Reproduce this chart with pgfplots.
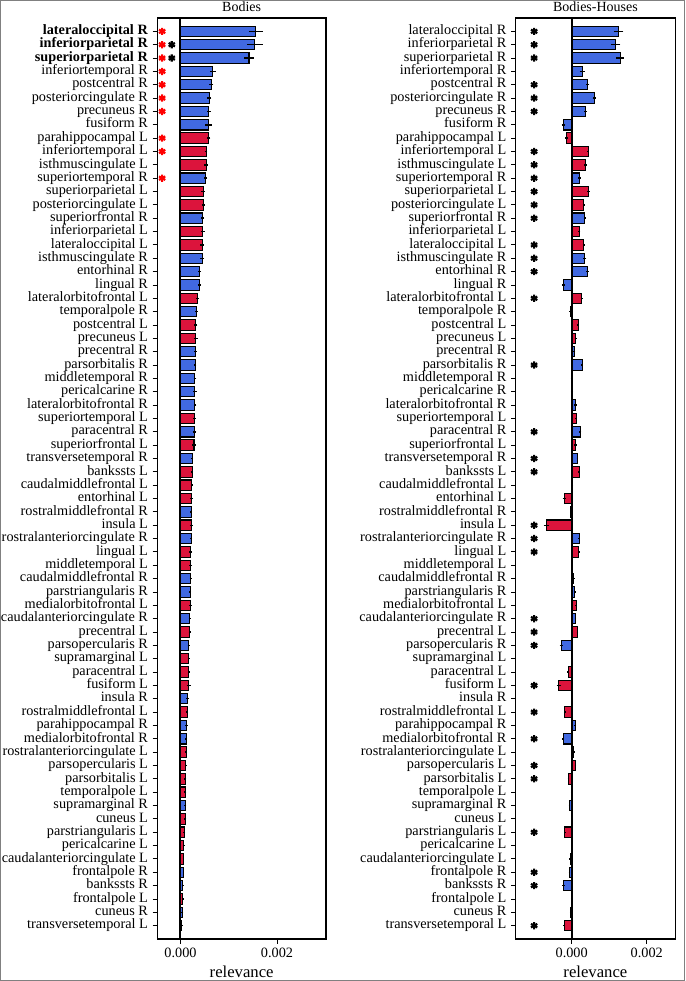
\documentclass[border=0pt]{standalone}
\usepackage{fontspec}
\setmainfont{Liberation Serif}
\usepackage{pgfplots}
\pgfplotsset{compat=1.18}
\definecolor{rblue}{RGB}{65,105,225}
\definecolor{lred}{RGB}{220,20,60}
\pgfplotsset{
  panel/.style={
    scale only axis, height=690.75pt,
    ymin=-1, ymax=68, y dir=reverse,
    ytick={0,...,67},
    xtick={0,0.002},
    scaled x ticks=false,
    xticklabel style={/pgf/number format/.cd, fixed, fixed zerofill, precision=3},
    /pgf/number format/assume math mode=true,
    tick align=outside, tick pos=left,
    major tick length=3.5pt,
    tick style={black, line width=0.7pt},
    axis line style={black, line width=0.8pt},
    ticklabel style={font=\fontsize{10.7}{12}\selectfont},
    yticklabel style={inner ysep=0pt, text height=0.68em, text depth=0.2em},
    every axis title/.style={at={(0.5,1)}, anchor=base, yshift=4.7pt, font=\fontsize{10.5}{12}\selectfont},
    xlabel style={font=\fontsize{12.5}{14}\selectfont, at={(axis description cs:0.5,0)}, anchor=base, yshift=-28.5pt},
    xlabel=relevance,
    clip=false,
  },
  hbar/.style={xbar, bar width=0.78, bar shift=0pt, fill=#1, draw=black, line width=0.8pt,
    error bars/.cd, x dir=both, x explicit, error mark=none, error bar style={black, solid, line width=1.1pt}},
  star/.style={only marks, mark=asterisk, mark size=2.7pt, line width=1.6pt, color=#1},
}
\begin{document}
\begin{tikzpicture}
\path[use as bounding box] (0,0) rectangle (513.75pt,-735.75pt);
% ---------------- Left panel: Bodies
\begin{axis}[panel, at={(117.98pt,-13.5pt)}, anchor=north west, width=126.5pt,
  xmin=-0.00048, xmax=0.003015, title={Bodies},
  yticklabels={\textbf{lateraloccipital R},\textbf{inferiorparietal R},\textbf{superiorparietal R},inferiortemporal R,postcentral R,posteriorcingulate R,precuneus R,fusiform R,parahippocampal L,inferiortemporal L,isthmuscingulate L,superiortemporal R,superiorparietal L,posteriorcingulate L,superiorfrontal R,inferiorparietal L,lateraloccipital L,isthmuscingulate R,entorhinal R,lingual R,lateralorbitofrontal L,temporalpole R,postcentral L,precuneus L,precentral R,parsorbitalis R,middletemporal R,pericalcarine R,lateralorbitofrontal R,superiortemporal L,paracentral R,superiorfrontal L,transversetemporal R,bankssts L,caudalmiddlefrontal L,entorhinal L,rostralmiddlefrontal R,insula L,rostralanteriorcingulate R,lingual L,middletemporal L,caudalmiddlefrontal R,parstriangularis R,medialorbitofrontal L,caudalanteriorcingulate R,precentral L,parsopercularis R,supramarginal L,paracentral L,fusiform L,insula R,rostralmiddlefrontal L,parahippocampal R,medialorbitofrontal R,rostralanteriorcingulate L,parsopercularis L,parsorbitalis L,temporalpole L,supramarginal R,cuneus L,parstriangularis L,pericalcarine L,caudalanteriorcingulate L,frontalpole R,bankssts R,frontalpole L,cuneus R,transversetemporal L},
]
\addplot[hbar=rblue] coordinates {
(0.00156,0) +- (0.00015,0) (0.00154,1) +- (0.00016,0) (0.00142,2) +- (0.00010,0)
(0.00067,3) +- (0.00006,0) (0.00064,4) +- (0.00004,0) (0.00060,5) +- (0.00004,0)
(0.00059,6) +- (0.00004,0) (0.00058,7) +- (0.00007,0) (0.00052,11) +- (0.00003,0)
(0.00046,14) +- (0.00003,0) (0.00045,17) +- (0.00004,0) (0.00040,18) +- (0.00003,0)
(0.00039,19) +- (0.00003,0) (0.00033,21) +- (0.00003,0) (0.00031,24) +- (0.00003,0)
(0.00031,25) +- (0.00002,0) (0.00030,26) +- (0.00003,0) (0.00030,27) +- (0.00004,0)
(0.00030,28) +- (0.00003,0) (0.00029,30) +- (0.00004,0) (0.00024,32) +- (0.00002,0)
(0.00022,36) +- (0.00002,0) (0.00022,38) +- (0.00002,0) (0.00021,41) +- (0.00002,0)
(0.00020,42) +- (0.00002,0) (0.00019,44) +- (0.00002,0) (0.00017,46) +- (0.00002,0)
(0.00015,50) +- (0.00003,0) (0.00012,52) +- (0.00003,0) (0.00012,53) +- (0.00002,0)
(0.00010,58) +- (0.00002,0) (0.00006,63) +- (0.00001,0) (0.00005,64) +- (0.00002,0)
(0.00004,66) +- (0.00002,0)
};
\addplot[hbar=lred] coordinates {
(0.00058,8) +- (0.00004,0) (0.00053,9) +- (0.00003,0) (0.00053,10) +- (0.00004,0)
(0.00047,12) +- (0.00004,0) (0.00047,13) +- (0.00003,0) (0.00046,15) +- (0.00004,0)
(0.00045,16) +- (0.00004,0) (0.00035,20) +- (0.00003,0) (0.00032,22) +- (0.00003,0)
(0.00032,23) +- (0.00004,0) (0.00029,29) +- (0.00003,0) (0.00028,31) +- (0.00004,0)
(0.00024,33) +- (0.00002,0) (0.00023,34) +- (0.00002,0) (0.00023,35) +- (0.00003,0)
(0.00022,37) +- (0.00003,0) (0.00021,39) +- (0.00003,0) (0.00021,40) +- (0.00003,0)
(0.00020,43) +- (0.00003,0) (0.00019,45) +- (0.00002,0) (0.00017,47) +- (0.00002,0)
(0.00017,48) +- (0.00002,0) (0.00017,49) +- (0.00004,0) (0.00014,51) +- (0.00002,0)
(0.00012,54) +- (0.00002,0) (0.00011,55) +- (0.00002,0) (0.00010,56) +- (0.00002,0)
(0.00010,57) +- (0.00002,0) (0.00010,59) +- (0.00002,0) (0.00008,60) +- (0.00002,0)
(0.00007,61) +- (0.00002,0) (0.00006,62) +- (0.00001,0) (0.00005,65) +- (0.00001,0)
(0.00003,67) +- (0.00001,0)
};
\addplot[black, line width=1.5pt] coordinates {(0,-1) (0,68)};
\addplot[star=red] coordinates {(-0.00038,0) (-0.00038,1) (-0.00038,2) (-0.00038,3) (-0.00038,4) (-0.00038,5) (-0.00038,6) (-0.00038,8) (-0.00038,9) (-0.00038,11)};
\addplot[star=black] coordinates {(-0.00018,1) (-0.00018,2)};
\end{axis}
% ---------------- Right panel: Bodies-Houses
\begin{axis}[panel, at={(386.8pt,-13.5pt)}, anchor=north west, width=119.5pt,
  xmin=-0.00149, xmax=0.002755, title={Bodies-Houses},
  yticklabels={lateraloccipital R,inferiorparietal R,superiorparietal R,inferiortemporal R,postcentral R,posteriorcingulate R,precuneus R,fusiform R,parahippocampal L,inferiortemporal L,isthmuscingulate L,superiortemporal R,superiorparietal L,posteriorcingulate L,superiorfrontal R,inferiorparietal L,lateraloccipital L,isthmuscingulate R,entorhinal R,lingual R,lateralorbitofrontal L,temporalpole R,postcentral L,precuneus L,precentral R,parsorbitalis R,middletemporal R,pericalcarine R,lateralorbitofrontal R,superiortemporal L,paracentral R,superiorfrontal L,transversetemporal R,bankssts L,caudalmiddlefrontal L,entorhinal L,rostralmiddlefrontal R,insula L,rostralanteriorcingulate R,lingual L,middletemporal L,caudalmiddlefrontal R,parstriangularis R,medialorbitofrontal L,caudalanteriorcingulate R,precentral L,parsopercularis R,supramarginal L,paracentral L,fusiform L,insula R,rostralmiddlefrontal L,parahippocampal R,medialorbitofrontal R,rostralanteriorcingulate L,parsopercularis L,parsorbitalis L,temporalpole L,supramarginal R,cuneus L,parstriangularis L,pericalcarine L,caudalanteriorcingulate L,frontalpole R,bankssts R,frontalpole L,cuneus R,transversetemporal L},
]
\addplot[hbar=rblue] coordinates {
(0.00125,0) +- (0.00013,0) (0.00118,1) +- (0.00012,0) (0.00129,2) +- (0.00010,0)
(0.00028,3) +- (0.00007,0) (0.00043,4) +- (0.00004,0) (0.00060,5) +- (0.00004,0)
(0.00037,6) +- (0.00004,0) (-0.00022,7) +- (0.00005,0) (0.00021,11) +- (0.00003,0)
(0.00035,14) +- (0.00003,0) (0.00035,17) +- (0.00004,0) (0.00042,18) +- (0.00003,0)
(-0.00022,19) +- (0.00004,0) (-0.00004,21) +- (0.00003,0) (0.00007,24) +- (0.00003,0)
(0.00028,25) +- (0.00002,0) (-0.00001,26) +- (0.00002,0) (0.00001,27) +- (0.00003,0)
(0.00010,28) +- (0.00003,0) (0.00023,30) +- (0.00003,0) (0.00015,32) +- (0.00002,0)
(-0.00002,36) +- (0.00002,0) (0.00020,38) +- (0.00002,0) (0.00005,41) +- (0.00002,0)
(0.00008,42) +- (0.00002,0) (0.00010,44) +- (0.00002,0) (-0.00028,46) +- (0.00004,0)
(0.00001,50) +- (0.00002,0) (0.00009,52) +- (0.00003,0) (-0.00023,53) +- (0.00002,0)
(-0.00006,58) +- (0.00002,0) (-0.00006,63) +- (0.00002,0) (-0.00022,64) +- (0.00003,0)
(-0.00003,66) +- (0.00002,0)
};
\addplot[hbar=lred] coordinates {
(-0.00013,8) +- (0.00004,0) (0.00044,9) +- (0.00002,0) (0.00037,10) +- (0.00003,0)
(0.00045,12) +- (0.00003,0) (0.00032,13) +- (0.00003,0) (0.00020,15) +- (0.00003,0)
(0.00032,16) +- (0.00003,0) (0.00027,20) +- (0.00003,0) (0.00017,22) +- (0.00002,0)
(0.00011,23) +- (0.00003,0) (0.00012,29) +- (0.00002,0) (0.00010,31) +- (0.00003,0)
(0.00020,33) +- (0.00002,0) (0.00002,34) +- (0.00002,0) (-0.00020,35) +- (0.00004,0)
(-0.00068,37) +- (0.00007,0) (0.00019,39) +- (0.00002,0) (0.00001,40) +- (0.00001,0)
(0.00012,43) +- (0.00002,0) (0.00015,45) +- (0.00002,0) (-0.00001,47) +- (0.00001,0)
(-0.00009,48) +- (0.00003,0) (-0.00034,49) +- (0.00006,0) (-0.00018,51) +- (0.00003,0)
(0.00006,54) +- (0.00002,0) (0.00010,55) +- (0.00002,0) (-0.00009,56) +- (0.00002,0)
(-0.00001,57) +- (0.00001,0) (0.00001,59) +- (0.00001,0) (-0.00018,60) +- (0.00002,0)
(0.00001,61) +- (0.00002,0) (-0.00004,62) +- (0.00002,0) (-0.00001,65) +- (0.00001,0)
(-0.00020,67) +- (0.00002,0)
};
\addplot[black, line width=1.5pt] coordinates {(0,-1) (0,68)};
\addplot[star=black] coordinates {(-0.001,0) (-0.001,1) (-0.001,2) (-0.001,4) (-0.001,5) (-0.001,6) (-0.001,9) (-0.001,10) (-0.001,11) (-0.001,12) (-0.001,13) (-0.001,14) (-0.001,16) (-0.001,17) (-0.001,18) (-0.001,20) (-0.001,25) (-0.001,30) (-0.001,32) (-0.001,33) (-0.001,37) (-0.001,38) (-0.001,39) (-0.001,44) (-0.001,45) (-0.001,46) (-0.001,49) (-0.001,51) (-0.001,53) (-0.001,55) (-0.001,56) (-0.001,60) (-0.001,63) (-0.001,64) (-0.001,67)};
\end{axis}
\draw[gray, line width=0.9pt] (0.45pt,-0.45pt) rectangle (513.3pt,-735.3pt);
\end{tikzpicture}
\end{document}
